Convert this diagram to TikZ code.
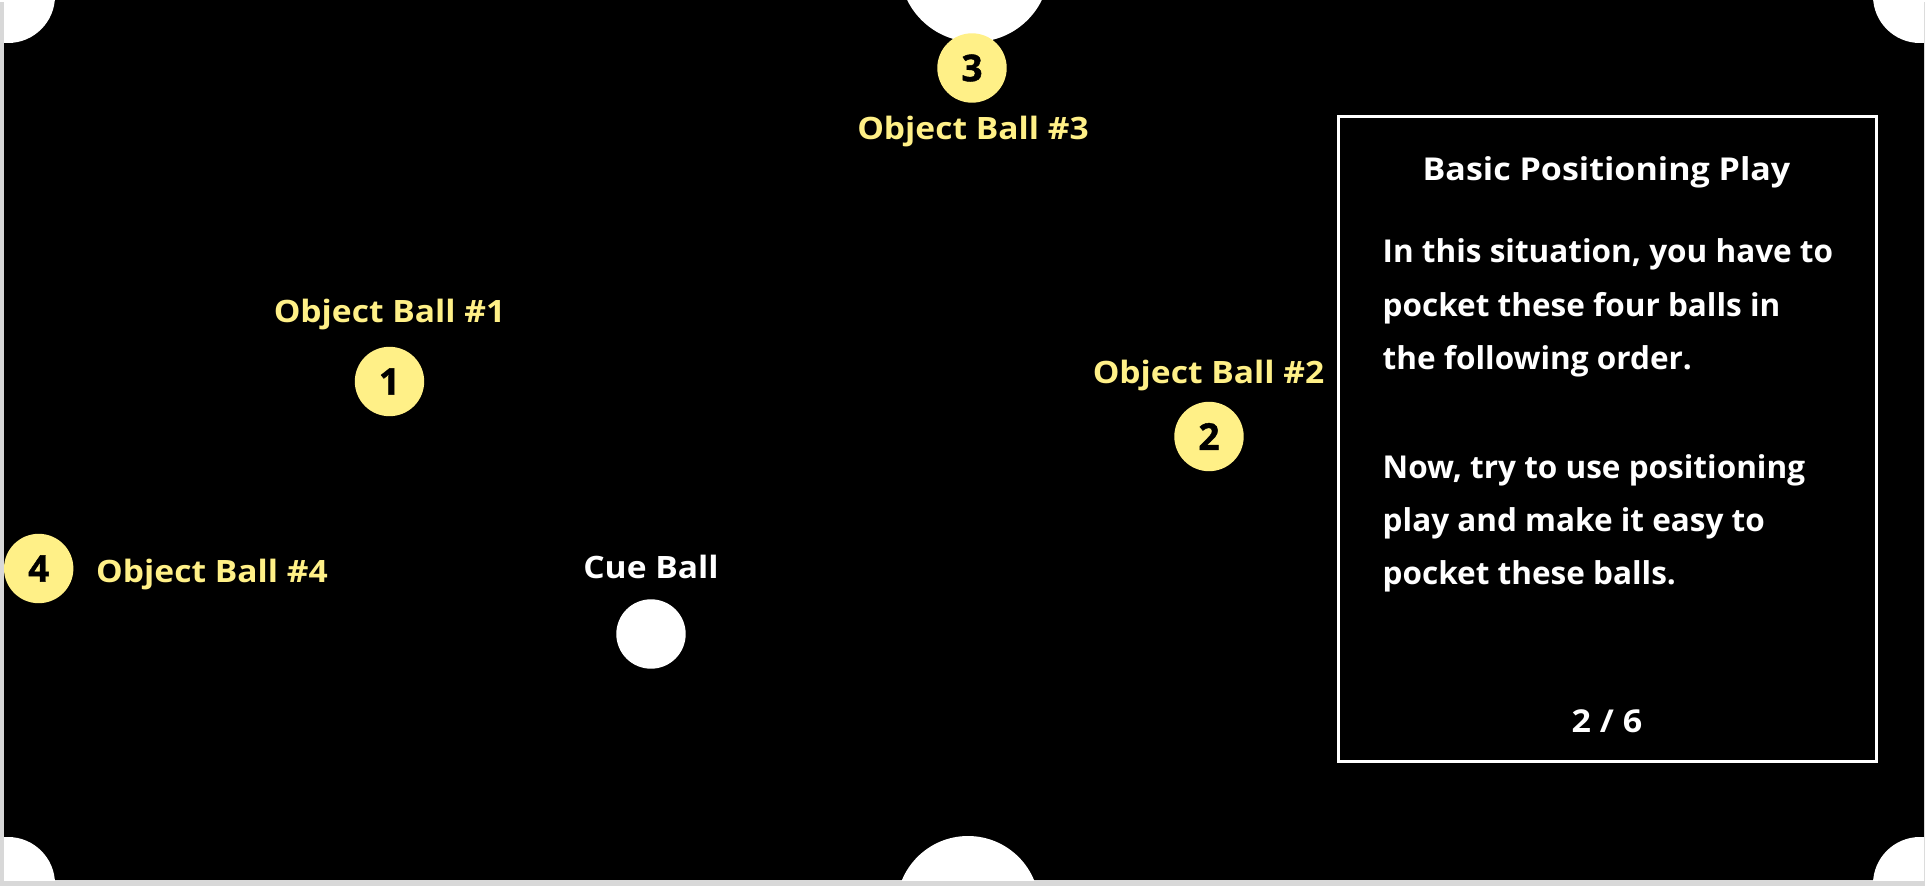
\documentclass[tikz,border=0pt]{standalone}
\usepackage{fontspec}
\setmainfont{Open Sans}
\newfontfamily\lblfont{Open Sans}[FakeStretch=1.09]
\newfontfamily\titlefont{Open Sans}[FakeStretch=1.08]
\newfontfamily\numfont{Open Sans}[BoldFeatures={FakeBold=1.2}]
\definecolor{ballyellow}{HTML}{FFF087}
\definecolor{shadowgray}{HTML}{D8D8D8}
\begin{document}
\begin{tikzpicture}[x=1pt,y=-1pt,
  ball/.style={circle,fill=ballyellow,minimum size=69.4pt,inner sep=0pt,text=black,
    font=\numfont\fontsize{37}{37}\selectfont\bfseries},
  cueball/.style={circle,fill=white,minimum size=69.4pt,inner sep=0pt},
  lbl/.style={anchor=base,inner sep=0pt,text=ballyellow,font=\lblfont\fontsize{30.8}{30.8}\selectfont\bfseries},
  cuelbl/.style={anchor=base,inner sep=0pt,text=white,font=\lblfont\fontsize{30.8}{30.8}\selectfont\bfseries},
  boxtitle/.style={anchor=base,inner sep=0pt,text=white,font=\titlefont\fontsize{31.5}{31.5}\selectfont\bfseries},
  bodyline/.style={anchor=base west,inner sep=0pt,text=white,font=\fontsize{31.5}{31.5}\selectfont\bfseries},
  pocket/.style={fill=white}]
\useasboundingbox (0,0) rectangle (1928,888);
\fill[white] (0,0) rectangle (1928,888);
\fill[shadowgray] (0,2) rectangle (1925,886);
\fill[black] (4,0) rectangle (1924,880);
% pockets
\begin{scope}
\clip (4,0) rectangle (1924,880);
\fill[pocket] (8,-4) circle (47pt);
\fill[pocket] (1920,-4) circle (47pt);
\fill[pocket] (8,884) circle (47pt);
\fill[pocket] (1920,884) circle (47pt);
\fill[pocket] (974.5,-33) circle (75pt);
\fill[pocket] (968,907.5) circle (71.5pt);
\end{scope}
% balls
\node[ball] (b3) at (972,68) {3};
\node[ball] (b1) at (389.5,381.5) {1};
\node[ball] (b2) at (1209,436.5) {2};
\node[ball] (b4) at (38.7,568.5) {4};
\node[cueball] (cue) at (651,634) {};
% labels
\node[lbl] (l3) at (973,140) {Object Ball \#3};
\node[lbl] (l1) at (389.5,322.7) {Object Ball \#1};
\node[lbl] (l2) at (1208.5,383.3) {Object Ball \#2};
\node[lbl,anchor=base west] (l4) at (96,582.5) {Object Ball \#4};
\node[cuelbl] (lc) at (651,578) {Cue Ball};
% info box
\draw[white,line width=3pt] (1338.5,116.5) rectangle (1876.5,761.5);
\node[boxtitle] (title) at (1606.5,181) {Basic Positioning Play};
\node[bodyline] (p1) at (1382.5,262.7) {In this situation, you have to};
\node[bodyline] (p2) at (1382.5,316) {pocket these four balls in};
\node[bodyline] (p3) at (1382.5,369.3) {the following order.};
\node[bodyline] (p4) at (1382.5,478.3) {Now, try to use positioning};
\node[bodyline] (p5) at (1382.5,531.6) {play and make it easy to};
\node[bodyline] (p6) at (1382.5,584.9) {pocket these balls.};
\node[boxtitle] (page) at (1607,732.7) {2 / 6};
\end{tikzpicture}
\end{document}
